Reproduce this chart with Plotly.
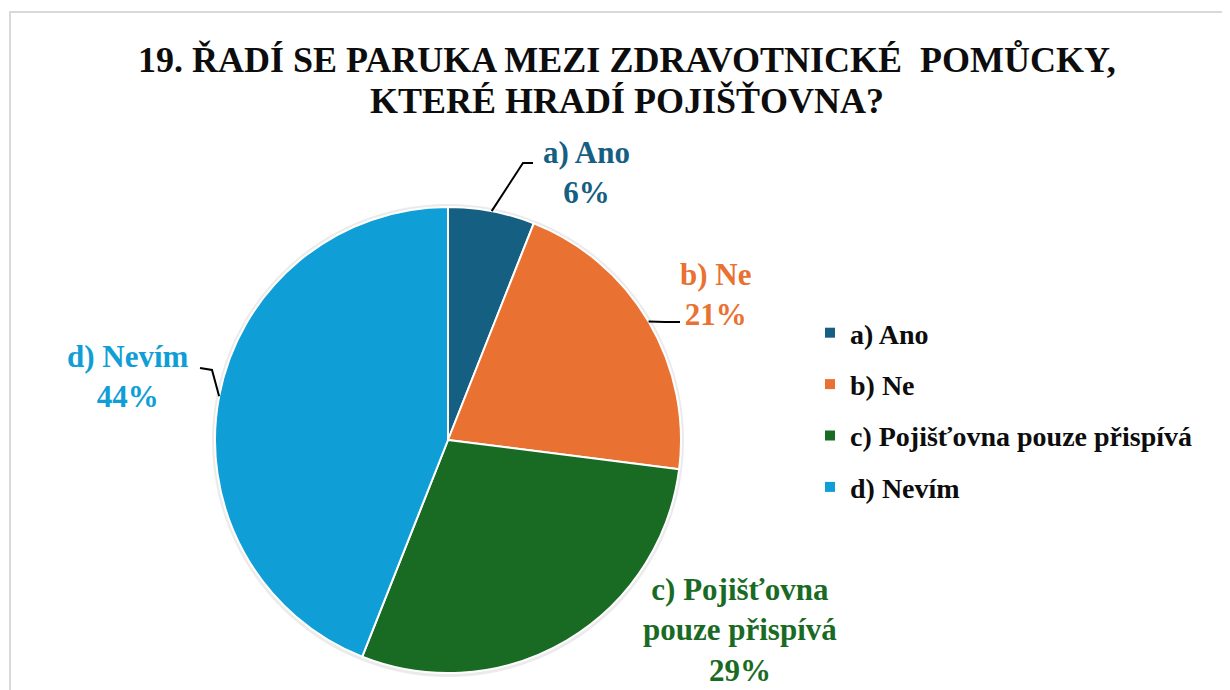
import math
import plotly.graph_objects as go

W, H = 1230, 690
OFF = 8  # page body margin in the browser

categories = ["a) Ano", "b) Ne", "c) Pojišťovna pouze přispívá", "d) Nevím"]
label_text = ["a) Ano", "b) Ne", "c) Pojišťovna<br>pouze přispívá", "d) Nevím"]
values = [6, 21, 29, 44]
colors = ["#156082", "#E97132", "#196B24", "#0F9ED5"]
title_lines = ["19. ŘADÍ SE PARUKA MEZI ZDRAVOTNICKÉ  POMŮCKY,", "KTERÉ HRADÍ POJIŠŤOVNA?"]

SERIF = "Times New Roman, Liberation Serif, serif"


def px(x):
    return (x - OFF) / W


def py(y):
    return 1 - (y - OFF) / H


def bold(s):
    return "<b>" + s + "</b>"


# pie geometry (screen pixels)
CX, CY, R = 448, 440, 233

fig = go.Figure()

# soft shadow behind the pie
fig.add_shape(type="circle", xref="paper", yref="paper",
              x0=px(CX - R - 3), x1=px(CX + R + 3), y0=py(CY + R + 4), y1=py(CY - R - 3),
              fillcolor="rgba(0,0,0,0.08)", line=dict(width=0), layer="below")

fig.add_trace(go.Pie(
    labels=categories, values=values, sort=False, direction="clockwise", rotation=0,
    marker=dict(colors=colors, line=dict(color="white", width=2)),
    textinfo="none", showlegend=False, hoverinfo="label+percent",
    domain=dict(x=[px(CX - R), px(CX + R)], y=[py(CY + R), py(CY - R)]),
))

# legend entries (one per category so spacing can be controlled)
for cat, col in zip(categories, colors):
    fig.add_trace(go.Scatter(
        x=[None], y=[None], mode="markers", name=bold(cat), legendgroup=cat,
        marker=dict(symbol="square", size=10, color=col),
        showlegend=True,
    ))

# data labels
total = sum(values)
label_pos = [(586, 173), (715, 294), (740, 630), (128, 376)]
knees = [((523, 163), (533, 163)), ((665, 322), (680, 322)), None, ((212, 370), (200, 368))]
cum = 0
for i, (lab, v, col) in enumerate(zip(label_text, values, colors)):
    mid = (cum + v / 2) / total * 2 * math.pi
    cum += v
    pct = round(v / total * 100)
    lx, ly = label_pos[i]
    fig.add_annotation(
        x=px(lx), y=py(ly), xref="paper", yref="paper", showarrow=False,
        xanchor="center", yanchor="middle",
        text=bold(f"{lab}<br>{pct}%"), align="center",
        font=dict(family=SERIF, size=31, color=col),
    )
    if knees[i] is not None:
        ex = CX + R * math.sin(mid)
        ey = CY - R * math.cos(mid)
        (kx, ky), (tx, ty) = knees[i]
        fig.add_shape(
            type="path", xref="paper", yref="paper",
            path=f"M {px(ex)} {py(ey)} L {px(kx)} {py(ky)} L {px(tx)} {py(ty)}",
            line=dict(color="black", width=2),
        )

# chart frame
fig.add_shape(type="rect", xref="paper", yref="paper",
              x0=px(10), x1=px(1260), y0=py(720), y1=py(12),
              line=dict(color="#D9D9D9", width=2), layer="below")

# title, one annotation per line for exact line spacing
for line, ty in zip(title_lines, [60, 101]):
    fig.add_annotation(
        x=px(627), y=py(ty), xref="paper", yref="paper", showarrow=False,
        xanchor="center", yanchor="middle", align="center",
        text=bold(line),
        font=dict(family=SERIF, size=36, color="#0d0d0d"),
    )

fig.update_layout(
    width=W, height=H,
    margin=dict(l=0, r=0, t=0, b=0),
    font=dict(family=SERIF),
    paper_bgcolor="white", plot_bgcolor="white",
    xaxis=dict(visible=False), yaxis=dict(visible=False),
    legend=dict(x=px(810), y=py(308), xanchor="left", yanchor="top",
                traceorder="grouped", tracegroupgap=12, itemwidth=30,
                font=dict(family=SERIF, size=28, color="#0d0d0d"),
                bgcolor="rgba(0,0,0,0)"),
)

fig.write_html("out.html")
